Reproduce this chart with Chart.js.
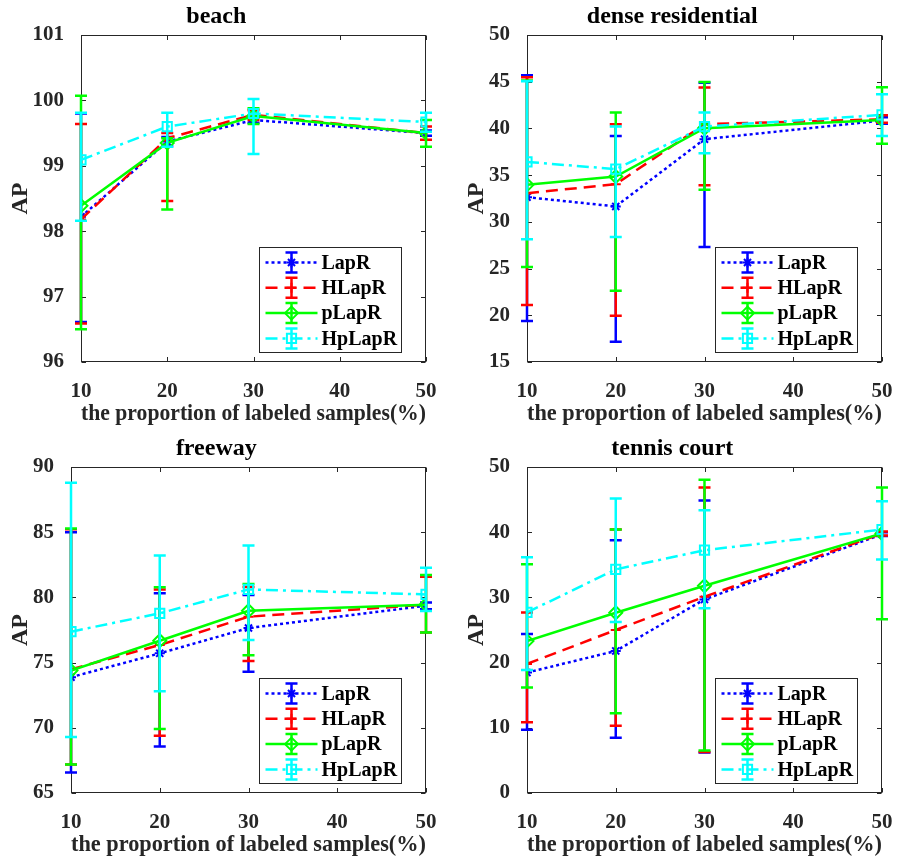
<!DOCTYPE html>
<html><head><meta charset="utf-8">
<script src="https://cdn.jsdelivr.net/npm/chart.js@4.4.0/dist/chart.umd.min.js"></script>
<style>
html,body{margin:0;padding:0;background:#fff;}
#wrap{position:relative;width:903px;height:860px;overflow:hidden;background:#fff;}
canvas{position:absolute;}
</style></head><body>
<div id="wrap">
<canvas id="c1" width="451" height="430" style="left:0px;top:0px"></canvas>
<canvas id="c2" width="452" height="430" style="left:451px;top:0px"></canvas>
<canvas id="c3" width="451" height="430" style="left:0px;top:430px"></canvas>
<canvas id="c4" width="452" height="430" style="left:451px;top:430px"></canvas>
</div>
<script>
// ---------------- data ----------------
const categories = [10, 20, 30, 50];
const seriesNames = ['LapR', 'HLapR', 'pLapR', 'HpLapR'];
const xTicks = [10, 20, 30, 40, 50];
const xAxisLabel = 'the proportion of labeled samples(%)';
const yAxisLabel = 'AP';

// beach  (rows: LapR, HLapR, pLapR, HpLapR)
const beachMean = [
  [98.22, 99.37, 99.70, 99.50],
  [98.18, 99.42, 99.78, 99.50],
  [98.39, 99.35, 99.76, 99.50],
  [99.09, 99.60, 99.80, 99.67]
];
const beachLow = [
  [96.61, 99.30, 99.66, 99.46],
  [96.59, 98.46, 99.70, 99.40],
  [96.50, 98.33, 99.64, 99.29],
  [98.16, 99.29, 99.18, 99.52]
];
const beachHigh = [
  [99.80, 99.44, 99.74, 99.54],
  [99.64, 99.50, 99.85, 99.60],
  [100.07, 99.42, 99.88, 99.70],
  [99.81, 99.81, 100.02, 99.81]
];
const beachYTicks = [96, 97, 98, 99, 100, 101];

// dense residential
const denseMean = [
  [32.64, 31.65, 38.85, 40.84],
  [33.07, 34.03, 40.45, 40.98],
  [33.96, 34.85, 40.02, 40.91],
  [36.42, 35.64, 40.20, 41.45]
];
const denseLow = [
  [19.39, 17.18, 27.30, 40.50],
  [21.10, 19.96, 33.93, 40.60],
  [25.16, 22.63, 33.43, 38.35],
  [28.15, 28.37, 37.35, 39.20]
];
const denseHigh = [
  [45.69, 39.20, 44.90, 41.20],
  [45.47, 40.45, 44.37, 41.40],
  [45.12, 41.70, 44.97, 44.40],
  [45.05, 40.20, 41.70, 43.66]
];
const denseYTicks = [15, 20, 25, 30, 35, 40, 45, 50];

// freeway
const freewayMean = [
  [73.88, 75.71, 77.65, 79.36],
  [74.49, 76.35, 78.52, 79.44],
  [74.39, 76.68, 78.98, 79.44],
  [77.37, 78.78, 80.61, 80.23]
];
const freewayLow = [
  [66.58, 68.57, 74.29, 79.10],
  [67.19, 69.39, 75.13, 77.30],
  [67.19, 69.90, 75.56, 77.30],
  [69.29, 72.81, 76.73, 78.95]
];
const freewayHigh = [
  [85.00, 80.31, 80.18, 79.60],
  [85.23, 80.61, 80.80, 81.58],
  [85.28, 80.77, 81.02, 81.71],
  [88.80, 83.21, 83.98, 82.27]
];
const freewayYTicks = [65, 70, 75, 80, 85, 90];

// tennis court
const tennisMean = [
  [18.47, 21.79, 29.69, 39.69],
  [19.80, 25.00, 30.10, 39.80],
  [23.32, 27.65, 31.79, 39.80],
  [27.70, 34.29, 37.24, 40.41]
];
const tennisLow = [
  [9.69, 8.47, 6.22, 39.40],
  [10.87, 10.31, 6.30, 39.50],
  [16.17, 12.24, 6.53, 26.63],
  [18.88, 26.22, 28.32, 35.82]
];
const tennisHigh = [
  [24.39, 38.78, 44.85, 40.00],
  [27.70, 40.41, 46.84, 40.10],
  [35.10, 40.41, 48.06, 46.84],
  [36.17, 45.15, 43.37, 44.74]
];
const tennisYTicks = [0, 10, 20, 30, 40, 50];

// ---------------- styles ----------------
const FONT = "'Liberation Serif','Times New Roman',Times,serif";
const styles = [
  {color: '#0000FF', dash: [3, 3], point: 'star', radius: 5},
  {color: '#FF0000', dash: [12, 7], point: 'cross', radius: 5},
  {color: '#00FF00', dash: [], point: 'rectRot', radius: 6.5},
  {color: '#00FFFF', dash: [12, 5, 3, 5], point: 'rect', radius: 6.5}
];
const LW = 2.5;

function drawMarker(ctx, style, x, y, r, color) {
  ctx.save();
  ctx.strokeStyle = color; ctx.fillStyle = 'rgba(0,0,0,0)'; ctx.lineWidth = 2; ctx.setLineDash([]);
  if (Chart.helpers && Chart.helpers.drawPoint) {
    Chart.helpers.drawPoint(ctx, {pointStyle: style, radius: r, borderWidth: 2, rotation: 0}, x, y);
  } else {
    ctx.beginPath(); ctx.arc(x, y, r, 0, Math.PI * 2); ctx.stroke();
  }
  ctx.restore();
}

const axesBoxPlugin = {
  id: 'axesBox',
  beforeDatasetsDraw(chart) {
    const {ctx, chartArea: a, scales: {x, y}} = chart;
    ctx.save();
    ctx.strokeStyle = '#262626'; ctx.lineWidth = 1; ctx.setLineDash([]);
    const L = Math.round(a.left) + 0.5, R = Math.round(a.right) - 0.5;
    const T = Math.round(a.top) + 0.5, B = Math.round(a.bottom) - 0.5;
    ctx.strokeRect(L, T, R - L, B - T);
    ctx.beginPath();
    x.ticks.forEach(t => {
      const px = Math.round(x.getPixelForValue(t.value)) + 0.5;
      ctx.moveTo(px, B); ctx.lineTo(px, B - 4.5);
      ctx.moveTo(px, T); ctx.lineTo(px, T + 4.5);
    });
    y.ticks.forEach(t => {
      const py = Math.round(y.getPixelForValue(t.value)) + 0.5;
      ctx.moveTo(L, py); ctx.lineTo(L + 4.5, py);
      ctx.moveTo(R, py); ctx.lineTo(R - 4.5, py);
    });
    ctx.stroke();
    ctx.restore();
  }
};

const errorBarPlugin = {
  id: 'errorBars',
  beforeDatasetDraw(chart, args) {
    const ds = chart.data.datasets[args.index];
    const xs = chart.scales.x, ys = chart.scales.y, ctx = chart.ctx;
    ctx.save();
    ctx.strokeStyle = ds.borderColor; ctx.lineWidth = LW; ctx.setLineDash([]); ctx.lineCap = 'butt';
    ds.errLow.forEach((lo, i) => {
      const hi = ds.errHigh[i];
      const x = xs.getPixelForValue(ds.data[i].x);
      const y1 = ys.getPixelForValue(lo), y2 = ys.getPixelForValue(hi);
      ctx.beginPath();
      ctx.moveTo(x, y1); ctx.lineTo(x, y2);
      ctx.moveTo(x - 6, y1); ctx.lineTo(x + 6, y1);
      ctx.moveTo(x - 6, y2); ctx.lineTo(x + 6, y2);
      ctx.stroke();
    });
    ctx.restore();
  }
};

const legendPlugin = {
  id: 'boxLegend',
  afterDatasetsDraw(chart) {
    const {ctx, chartArea: a} = chart;
    const W = 142, H = 105;
    const Lx = Math.round(a.right - 25 - W) + 0.5, Ty = Math.round(a.bottom - 10 - H) + 0.5;
    ctx.save();
    ctx.fillStyle = '#fff'; ctx.fillRect(Lx, Ty, W, H);
    ctx.strokeStyle = '#262626'; ctx.lineWidth = 1; ctx.setLineDash([]); ctx.strokeRect(Lx, Ty, W, H);
    chart.data.datasets.forEach((ds, i) => {
      const yy = Ty + 15 + i * 25.3;
      const st = styles[i];
      ctx.strokeStyle = ds.borderColor; ctx.lineWidth = LW; ctx.lineCap = 'butt';
      ctx.setLineDash(st.dash);
      ctx.beginPath(); ctx.moveTo(Lx + 6, yy); ctx.lineTo(Lx + 58, yy); ctx.stroke();
      ctx.setLineDash([]);
      const mx = Lx + 32;
      ctx.beginPath();
      ctx.moveTo(mx, yy - 10); ctx.lineTo(mx, yy + 10);
      ctx.moveTo(mx - 6, yy - 10); ctx.lineTo(mx + 6, yy - 10);
      ctx.moveTo(mx - 6, yy + 10); ctx.lineTo(mx + 6, yy + 10);
      ctx.stroke();
      drawMarker(ctx, st.point, mx, yy, st.radius, ds.borderColor);
      ctx.fillStyle = '#000'; ctx.font = 'bold 20px ' + FONT;
      ctx.textBaseline = 'middle'; ctx.textAlign = 'left';
      ctx.fillText(ds.label, Lx + 62, yy + 1);
    });
    ctx.restore();
  }
};

function makeChart(id, cfg) {
  const yT = cfg.yTicks;
  return new Chart(document.getElementById(id), {
    type: 'line',
    data: {
      datasets: seriesNames.map((name, s) => ({
        label: name,
        data: categories.map((c, i) => ({x: c, y: cfg.mean[s][i]})),
        errLow: cfg.low[s], errHigh: cfg.high[s],
        borderColor: styles[s].color, backgroundColor: 'rgba(0,0,0,0)',
        borderWidth: LW, borderDash: styles[s].dash, borderCapStyle: 'butt',
        pointStyle: styles[s].point, pointRadius: styles[s].radius, pointBorderWidth: 2,
        pointBackgroundColor: 'rgba(0,0,0,0)', pointBorderColor: styles[s].color,
        pointHoverRadius: styles[s].radius,
        tension: 0, fill: false, order: 4 - s
      }))
    },
    options: {
      responsive: false, animation: false, devicePixelRatio: 1, events: [],
      layout: {autoPadding: false, padding: {left: cfg.padLeft, right: cfg.padRight, top: 0, bottom: 0}},
      plugins: {
        legend: {display: false}, tooltip: {enabled: false},
        title: {display: true, text: cfg.title, color: '#000',
          font: {family: FONT, size: 24, weight: 'bold', lineHeight: 1.2},
          padding: {top: cfg.tTop, bottom: cfg.tBottom}}
      },
      scales: {
        x: {
          type: 'linear', min: xTicks[0], max: xTicks[xTicks.length - 1],
          grid: {display: false}, border: {display: false},
          afterBuildTicks: s => { s.ticks = xTicks.map(v => ({value: v})); },
          afterFit: s => { s.height = cfg.xHeight; },
          ticks: {padding: 9, color: '#262626', maxRotation: 0, autoSkip: false,
            font: {family: FONT, size: 21, weight: 'bold', lineHeight: 1.2}},
          title: {display: true, text: xAxisLabel, color: '#262626',
            font: {family: FONT, size: 24, weight: 'bold', lineHeight: 1.2},
            padding: {top: 0, bottom: cfg.xtPad}}
        },
        y: {
          type: 'linear', min: yT[0], max: yT[yT.length - 1],
          grid: {display: false}, border: {display: false},
          afterBuildTicks: s => { s.ticks = yT.map(v => ({value: v})); },
          afterFit: s => { s.width = cfg.yWidth; },
          ticks: {padding: 9, color: '#262626', autoSkip: false,
            font: {family: FONT, size: 21, weight: 'bold', lineHeight: 1.2}},
          title: {display: true, text: yAxisLabel, color: '#262626',
            font: {family: FONT, size: 24, weight: 'bold', lineHeight: 1.2},
            padding: {top: 0, bottom: 0}}
        }
      }
    },
    plugins: [axesBoxPlugin, errorBarPlugin, legendPlugin]
  });
}

makeChart('c1', {title: 'beach', mean: beachMean, low: beachLow, high: beachHigh, yTicks: beachYTicks,
  padLeft: 6.6, yWidth: 74.4, padRight: 25, tTop: 2.6, tBottom: 3.6, xHeight: 68, xtPad: 1.6});
makeChart('c2', {title: 'dense residential', mean: denseMean, low: denseLow, high: denseHigh, yTicks: denseYTicks,
  padLeft: 11.6, yWidth: 64.4, padRight: 21, tTop: 2.6, tBottom: 3.6, xHeight: 68, xtPad: 1.6});
makeChart('c3', {title: 'freeway', mean: freewayMean, low: freewayLow, high: freewayHigh, yTicks: freewayYTicks,
  padLeft: 6.6, yWidth: 64.4, padRight: 25, tTop: 4.6, tBottom: 3.6, xHeight: 67, xtPad: 0.6});
makeChart('c4', {title: 'tennis court', mean: tennisMean, low: tennisLow, high: tennisHigh, yTicks: tennisYTicks,
  padLeft: 11.6, yWidth: 64.4, padRight: 21, tTop: 4.6, tBottom: 3.6, xHeight: 67, xtPad: 0.6});
</script>
</body></html>
